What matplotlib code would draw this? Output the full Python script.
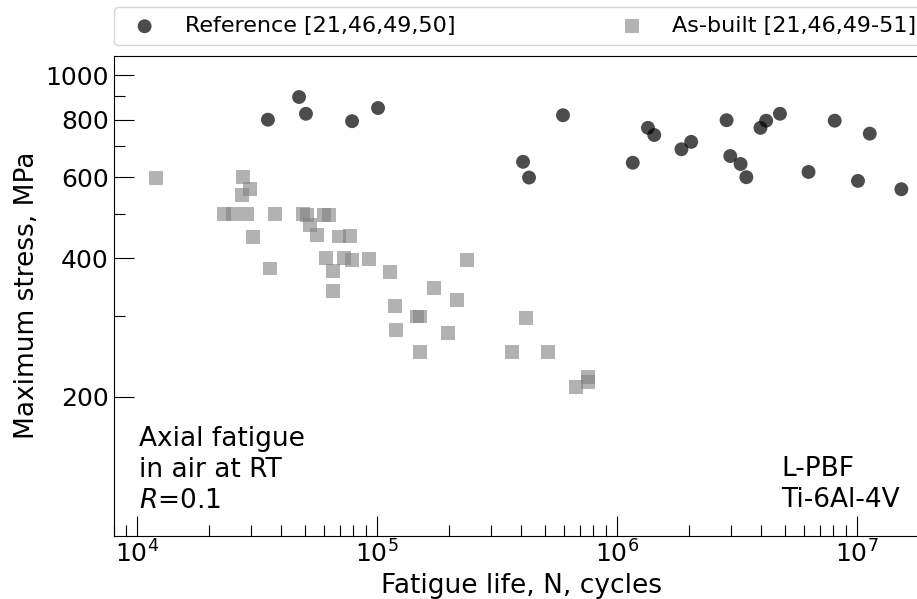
import matplotlib
matplotlib.use('Agg')
import matplotlib.pyplot as plt
from matplotlib.ticker import FixedLocator, NullFormatter

# Reference (wrought / conventional) data
ref_N = [35200, 47450, 50700, 78900, 101250, 407000, 431000, 597000,
         1166000, 1349000, 1433000, 1860000, 2043000, 2868000, 2972000,
         3281000, 3467000, 3970000, 4193000, 4786000, 6296000, 8095000,
         10120000, 11330000, 15340000]
ref_S = [800, 896, 824, 794, 848, 648, 599, 818,
         645, 768, 741, 690, 716, 798, 667,
         641, 600, 768, 796, 824, 616, 796,
         589, 746, 565]

# As-built L-PBF data
ab_N = [12000, 27700, 29740, 27380, 23170, 25260, 28820, 30430, 36040,
        37580, 49450, 51400, 52720, 56380, 60480, 63460, 61660, 65930,
        65560, 69430, 77400, 73280, 79130, 92880, 113900, 118850, 120000,
        147600, 152000, 151100, 173800, 215400, 198200, 237100, 366000,
        418800, 518800, 676000, 757000, 757000]
ab_S = [597, 600, 566, 549, 500, 500, 500, 445, 380,
        500, 500, 497, 473, 449, 496, 496, 400, 375,
        339, 446, 447, 400, 396, 399, 374, 315, 280,
        299, 299, 250, 345, 325, 275, 397, 250,
        297, 250, 210, 221, 215]

y_major = [200, 400, 600, 800, 1000]
y_minor = [300, 500, 700, 900]

fig = plt.figure(figsize=(9.17, 5.99), dpi=100)
ax = fig.add_axes([113.5 / 917, 63.5 / 599, 815.5 / 917, 479.5 / 599])

ax.scatter(ref_N, ref_S, s=100, marker='o', color='black', alpha=0.7,
           edgecolors='none', label='Reference [21,46,49,50]')
ax.scatter(ab_N, ab_S, s=100, marker='s', color='gray', alpha=0.6,
           edgecolors='none', label='As-built [21,46,49-51]')

ax.set_xscale('log')
ax.set_yscale('log')
ax.set_xlim(8e3, 2e7)
ax.set_ylim(100, 1100)

ax.yaxis.set_major_locator(FixedLocator(y_major))
ax.yaxis.set_minor_locator(FixedLocator(y_minor))
ax.set_yticklabels([str(v) for v in y_major])
ax.yaxis.set_minor_formatter(NullFormatter())

ax.tick_params(which='both', direction='in', labelsize=18, top=False, right=False)
ax.tick_params(which='major', length=14.4, width=0.8)
ax.tick_params(which='minor', length=8, width=0.8)

ax.set_xlabel('Fatigue life, N, cycles', fontsize=19)
ax.set_ylabel('Maximum stress, MPa', fontsize=19)

ax.spines['right'].set_visible(False)

ax.text(0.031, 0.228, 'Axial fatigue\nin air at RT\n$R$=0.1', transform=ax.transAxes,
        fontsize=19, ha='left', va='top', linespacing=1.25)
ax.text(0.819, 0.166, 'L-PBF\nTi-6Al-4V', transform=ax.transAxes,
        fontsize=19, ha='left', va='top', linespacing=1.25)

ax.legend(loc='lower left', bbox_to_anchor=(0, 1.023, 0.995, 0.1), mode='expand',
          ncol=2, fontsize=16, borderaxespad=0)

fig.savefig('out.png', dpi=100)
